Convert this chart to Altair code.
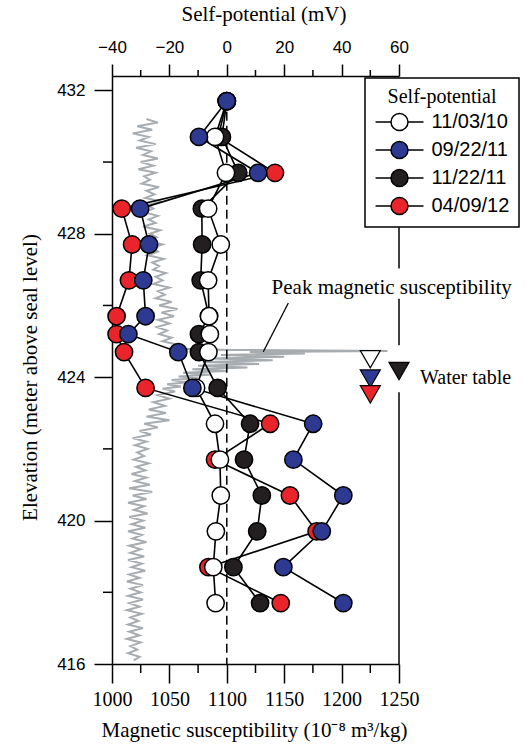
import altair as alt
import pandas as pd

SERIF = "Liberation Serif"
SANS = "Liberation Sans"

# Self-potential surveys (legend order) and their marker fills
SURVEYS = ["11/03/10", "09/22/11", "11/22/11", "04/09/12"]
FILLS = ["#FFFFFF", "#2E3A92", "#231F20", "#E9242A"]
# drawing order of the surveys (last one on top)
Z_ORDER = {"04/09/12": 0, "11/22/11": 1, "11/03/10": 2, "09/22/11": 3}

# Electrode elevations (m above sea level)
ELEV = [431.7, 430.7, 429.7, 428.7, 427.7, 426.7, 425.7, 425.2, 424.7,
        423.7, 422.7, 421.7, 420.7, 419.7, 418.7, 417.7]

# Self-potential (mV) at each elevation
SP_110310 = [0.0, -4.1, -0.3, -6.5, -2.1, -6.5, -6.2, -5.9, -6.4,
             -10.7, -4.1, -2.4, -2.1, -3.8, -4.7, -3.9]
SP_092211 = [0.0, -9.7, 10.9, -30.2, -27.1, -29.1, -28.3, -34.3, -16.9,
             -12.0, 30.1, 23.2, 40.6, 33.1, 19.7, 40.6]
SP_112211 = [0.0, -1.7, 4.0, -8.7, -8.6, -9.1, -6.2, -9.7, -9.7,
             -3.2, 8.1, 6.0, 12.2, 10.6, 2.3, 11.6]
SP_040912 = [0.0, -3.0, 16.8, -36.6, -33.0, -34.1, -38.4, -38.4, -35.8,
             -28.3, 15.1, -4.1, 22.0, 31.3, -6.4, 18.8]
SP_SERIES = [SP_110310, SP_092211, SP_112211, SP_040912]

# Water table level for each survey
WT_SP = [50, 50, 60, 50]
WT_ELEV = [424.50, 423.96, 424.17, 423.52]

# Magnetic susceptibility log (10^-8 m3/kg)
MS_ELEV = [
    431.2, 431.1, 431.0, 430.9, 430.8, 430.7, 430.6, 430.5, 430.4, 430.3,
    430.2, 430.1, 430.0, 429.9, 429.8, 429.7, 429.6, 429.5, 429.4, 429.3,
    429.2, 429.1, 429.0, 428.9, 428.8, 428.7, 428.6, 428.5, 428.4, 428.3,
    428.2, 428.1, 428.0, 427.9, 427.8, 427.7, 427.6, 427.5, 427.4, 427.3,
    427.2, 427.1, 427.0, 426.9, 426.8, 426.7, 426.6, 426.5, 426.4, 426.3,
    426.2, 426.1, 426.0, 425.9, 425.8, 425.7, 425.6, 425.5, 425.4, 425.3,
    425.2, 425.1, 425.0, 424.9, 424.8, 424.76, 424.73, 424.70, 424.66, 424.62,
    424.57, 424.52, 424.47, 424.42, 424.37, 424.32, 424.27, 424.22, 424.17, 424.12,
    424.07, 424.02, 423.97, 423.92, 423.86, 423.80, 423.74, 423.68, 423.6, 423.5,
    423.4, 423.3, 423.2, 423.1, 423.0, 422.9, 422.8, 422.7, 422.6, 422.5,
    422.4, 422.3, 422.2, 422.1, 422.0, 421.9, 421.8, 421.7, 421.6, 421.5,
    421.4, 421.3, 421.2, 421.1, 421.0, 420.9, 420.8, 420.7, 420.6, 420.5,
    420.4, 420.3, 420.2, 420.1, 420.0, 419.9, 419.8, 419.7, 419.6, 419.5,
    419.4, 419.3, 419.2, 419.1, 419.0, 418.9, 418.8, 418.7, 418.6, 418.5,
    418.4, 418.3, 418.2, 418.1, 418.0, 417.9, 417.8, 417.7, 417.6, 417.5,
    417.4, 417.3, 417.2, 417.1, 417.0, 416.9, 416.8, 416.7, 416.6, 416.5,
    416.4, 416.3, 416.2, 416.1,
]
MS_VALUE = [
    1030, 1040, 1022, 1035, 1018, 1032, 1024, 1038, 1021, 1034,
    1027, 1040, 1025, 1036, 1023, 1038, 1028, 1033, 1026, 1041,
    1030, 1037, 1029, 1043, 1031, 1036, 1028, 1040, 1032, 1038,
    1027, 1042, 1033, 1039, 1030, 1044, 1034, 1040, 1031, 1045,
    1035, 1041, 1036, 1047, 1038, 1044, 1036, 1050, 1040, 1046,
    1038, 1052, 1041, 1057, 1043, 1054, 1040, 1050, 1039, 1048,
    1041, 1052, 1044, 1058, 1050, 1105, 1240, 1120, 1168, 1095,
    1150, 1085, 1140, 1080, 1128, 1075, 1118, 1070, 1100, 1062,
    1085, 1058, 1075, 1052, 1066, 1048, 1060, 1044, 1055, 1040,
    1050, 1036, 1046, 1032, 1047, 1030, 1050, 1028, 1040, 1024,
    1034, 1018, 1030, 1020, 1031, 1022, 1028, 1019, 1032, 1021,
    1029, 1017, 1030, 1020, 1033, 1015, 1035, 1018, 1030, 1014,
    1028, 1019, 1031, 1015, 1027, 1017, 1029, 1014, 1026, 1018,
    1030, 1015, 1025, 1016, 1028, 1014, 1026, 1017, 1029, 1015,
    1024, 1013, 1027, 1016, 1025, 1014, 1027, 1015, 1024, 1013,
    1026, 1016, 1023, 1014, 1027, 1015, 1024, 1013, 1025, 1016,
    1022, 1014, 1024, 1019,
]

# Axis tick values
SP_MAJOR = [-40, -20, 0, 20, 40, 60]
SP_MINOR = [-30, -10, 10, 30, 50]
MAG_MAJOR = [1000, 1050, 1100, 1150, 1200, 1250]
MAG_MINOR = [1025, 1075, 1125, 1175, 1225]
ELEV_MAJOR = [416, 420, 424, 428, 432]
ELEV_MINOR = [418, 422, 426, 430]
SP_DOMAIN = [-40, 60]
MAG_DOMAIN = [1000, 1250]
ELEV_DOMAIN = [416, 432.4]

# Annotation anchors (magnetic susceptibility units / elevation)
PEAK_LABEL = {"mag": 1139.0, "elev": 426.31, "text": "Peak magnetic susceptibility"}
PEAK_LEADER = {"mag": [1153.6, 1131.8], "elev": [426.07, 424.71]}
WT_LABEL = {"mag": 1268.3, "elev": 423.80, "text": "Water table"}

# Zero self-potential reference and right-hand frame pieces
ZERO_LINE = {"sp": 0, "top": 431.4, "bottom": 416.0}
FRAME_SP = 60
FRAME_TOP = [428.18, 426.19, 423.58]
FRAME_BOTTOM = [427.03, 424.89, 416.0]

# ---------------------------------------------------------------- tables
rows = []
for name, series in zip(SURVEYS, SP_SERIES):
    for e, v in zip(ELEV, series):
        rows.append({"survey": name, "elev": e, "sp": v, "z": Z_ORDER[name]})
sp_df = pd.DataFrame(rows).sort_values(["z", "elev"]).reset_index(drop=True)

wt_df = pd.DataFrame({"survey": SURVEYS, "sp": WT_SP, "elev": WT_ELEV,
                      "color": FILLS})
ms_df = pd.DataFrame({"elev": MS_ELEV, "mag": MS_VALUE})
zero_df = pd.DataFrame([ZERO_LINE])
frame_df = pd.DataFrame({"sp": [FRAME_SP] * len(FRAME_TOP),
                         "top": FRAME_TOP, "bottom": FRAME_BOTTOM})
peak_df = pd.DataFrame([PEAK_LABEL])
wt_label_df = pd.DataFrame([WT_LABEL])
leader_df = pd.DataFrame(PEAK_LEADER)
sp_minor_df = pd.DataFrame({"sp": SP_MINOR})
mag_minor_df = pd.DataFrame({"mag": MAG_MINOR})
elev_minor_df = pd.DataFrame({"elev": ELEV_MINOR})

# ---------------------------------------------------------------- scales / axes
sp_scale = alt.Scale(domain=SP_DOMAIN, nice=False, zero=False)
mag_scale = alt.Scale(domain=MAG_DOMAIN, nice=False, zero=False)
y_scale = alt.Scale(domain=ELEV_DOMAIN, nice=False, zero=False)

common_axis = dict(grid=False, domainColor="black", tickColor="black",
                   domainWidth=1.5, tickWidth=1.5, labelColor="black",
                   titleColor="black", titleFont=SERIF, titleFontSize=21,
                   titleFontWeight="normal", labelFlush=False, format="d")

top_axis = alt.Axis(
    orient="top", values=SP_MAJOR, tickSize=12,
    labelFont=SANS, labelFontSize=17, labelPadding=8,
    title="Self-potential (mV)", titleX=151.5, titleY=-56,
    titleBaseline="alphabetic", **common_axis)

bottom_axis = alt.Axis(
    orient="bottom", values=MAG_MAJOR, tickSize=19,
    labelFont=SERIF, labelFontSize=20, labelPadding=6,
    title="Magnetic susceptibility (10⁻⁸ m³/kg)", titleX=142, titleY=72,
    titleBaseline="alphabetic", **common_axis)

# the elevation axis is declared once; the other layers share it implicitly
left_axis = alt.Axis(
    orient="left", values=ELEV_MAJOR, tickSize=18,
    labelFont=SANS, labelFontSize=17, labelPadding=9,
    title="Elevation (meter above seal level)", titleX=-72, titleY=301,
    **common_axis)

LEGEND_SYMBOL = "M-2.82,0L-1,0M1,0L2.82,0M1,0A1,1,0,1,1,-1,0A1,1,0,1,1,1,0Z"


def sp_x(field="sp:Q"):
    return alt.X(field, scale=sp_scale, axis=None)


def mag_x(field="mag:Q"):
    return alt.X(field, scale=mag_scale, axis=None)


def elev_y(field="elev:Q"):
    return alt.Y(field, scale=y_scale)


def elev_datum(value):
    return alt.Y(datum=value, scale=y_scale)


# ---------------------------------------------------------------- magnetic susceptibility
ms_line = alt.Chart(ms_df).mark_line(color="#A7ACB1", strokeWidth=2).encode(
    x=alt.X("mag:Q", scale=mag_scale, axis=bottom_axis),
    y=alt.Y("elev:Q", scale=y_scale, axis=left_axis),
    order=alt.Order("elev:Q"),
)

mag_minor = alt.Chart(mag_minor_df).mark_rule(
    color="black", strokeWidth=1.5, y2Offset=9
).encode(
    x=mag_x(),
    y=elev_datum(ELEV_DOMAIN[0]),
    y2=alt.Y2(datum=ELEV_DOMAIN[0]),
)

leader = alt.Chart(leader_df).mark_line(color="black", strokeWidth=1.3).encode(
    x=mag_x(), y=elev_y(),
)

peak_text = alt.Chart(peak_df).mark_text(
    align="left", baseline="alphabetic", font=SERIF, fontSize=21,
    color="black",
).encode(x=mag_x(), y=elev_y(), text="text:N")

wt_text = alt.Chart(wt_label_df).mark_text(
    align="left", baseline="alphabetic", font=SERIF, fontSize=20,
    color="black",
).encode(x=mag_x(), y=elev_y(), text="text:N")

# ---------------------------------------------------------------- self-potential
zero_rule = alt.Chart(zero_df).mark_rule(
    color="black", strokeWidth=1.5, strokeDash=[9, 5]
).encode(x=sp_x(), y=elev_y("top:Q"), y2="bottom:Q")

frame_rule = alt.Chart(frame_df).mark_rule(
    color="black", strokeWidth=1.5
).encode(x=sp_x(), y=elev_y("top:Q"), y2="bottom:Q")

# minor ticks on the top (self-potential) and left (elevation) axes
sp_minor = alt.Chart(sp_minor_df).mark_rule(
    color="black", strokeWidth=1.5, y2Offset=-6
).encode(
    x=sp_x(),
    y=elev_datum(ELEV_DOMAIN[1]),
    y2=alt.Y2(datum=ELEV_DOMAIN[1]),
)

elev_minor = alt.Chart(elev_minor_df).mark_rule(
    color="black", strokeWidth=1.5, x2Offset=-9
).encode(
    x=alt.X(datum=SP_DOMAIN[0], scale=sp_scale, axis=None),
    x2=alt.X2(datum=SP_DOMAIN[0]),
    y=elev_y(),
)

sp_lines = alt.Chart(sp_df).mark_line(color="black", strokeWidth=1.6).encode(
    x=alt.X("sp:Q", scale=sp_scale, axis=top_axis),
    y=elev_y(),
    detail="survey:N",
    order=alt.Order("elev:Q"),
)

sp_points = alt.Chart(sp_df).mark_point(
    shape="circle", filled=True, size=300, stroke="black", strokeWidth=1.5,
    opacity=1,
).encode(
    x=sp_x(),
    y=elev_y(),
    fill=alt.Fill(
        "survey:N", scale=alt.Scale(domain=SURVEYS, range=FILLS),
        legend=alt.Legend(
            title="Self-potential", orient="none", legendX=253, legendY=2,
            direction="vertical", fillColor="white", strokeColor="black",
            padding=9, titleFont=SERIF, titleFontSize=20,
            titleFontWeight="normal", titleColor="black",
            titleAnchor="middle", titlePadding=5, titleLimit=300,
            labelFont=SANS, labelFontSize=20, labelColor="black",
            labelOffset=22, labelLimit=300, symbolType=LEGEND_SYMBOL,
            symbolSize=289, symbolStrokeColor="black",
            symbolStrokeWidth=1.5, symbolOffset=15.5, rowPadding=4,
        ),
    ),
    order=alt.Order("z:Q"),
)

water_table = alt.Chart(wt_df).mark_point(
    shape="triangle-down", filled=True, size=400, stroke="black",
    strokeWidth=1.2, opacity=1,
).encode(x=sp_x(), y=elev_y(), fill=alt.Fill("color:N", scale=None))

chart = alt.layer(
    ms_line, mag_minor, leader, peak_text, wt_text,
    zero_rule, frame_rule, sp_minor, elev_minor,
    sp_lines, sp_points, water_table,
).resolve_scale(x="independent").properties(
    width=287, height=588,
    padding={"left": 112, "top": 76, "right": 128, "bottom": 80},
    autosize=alt.AutoSizeParams(type="none"),
    background="white",
).configure_view(stroke=None).configure_legend(strokeWidth=1.5)

chart.save("out.html", embed_options={"renderer": "svg", "actions": False})
